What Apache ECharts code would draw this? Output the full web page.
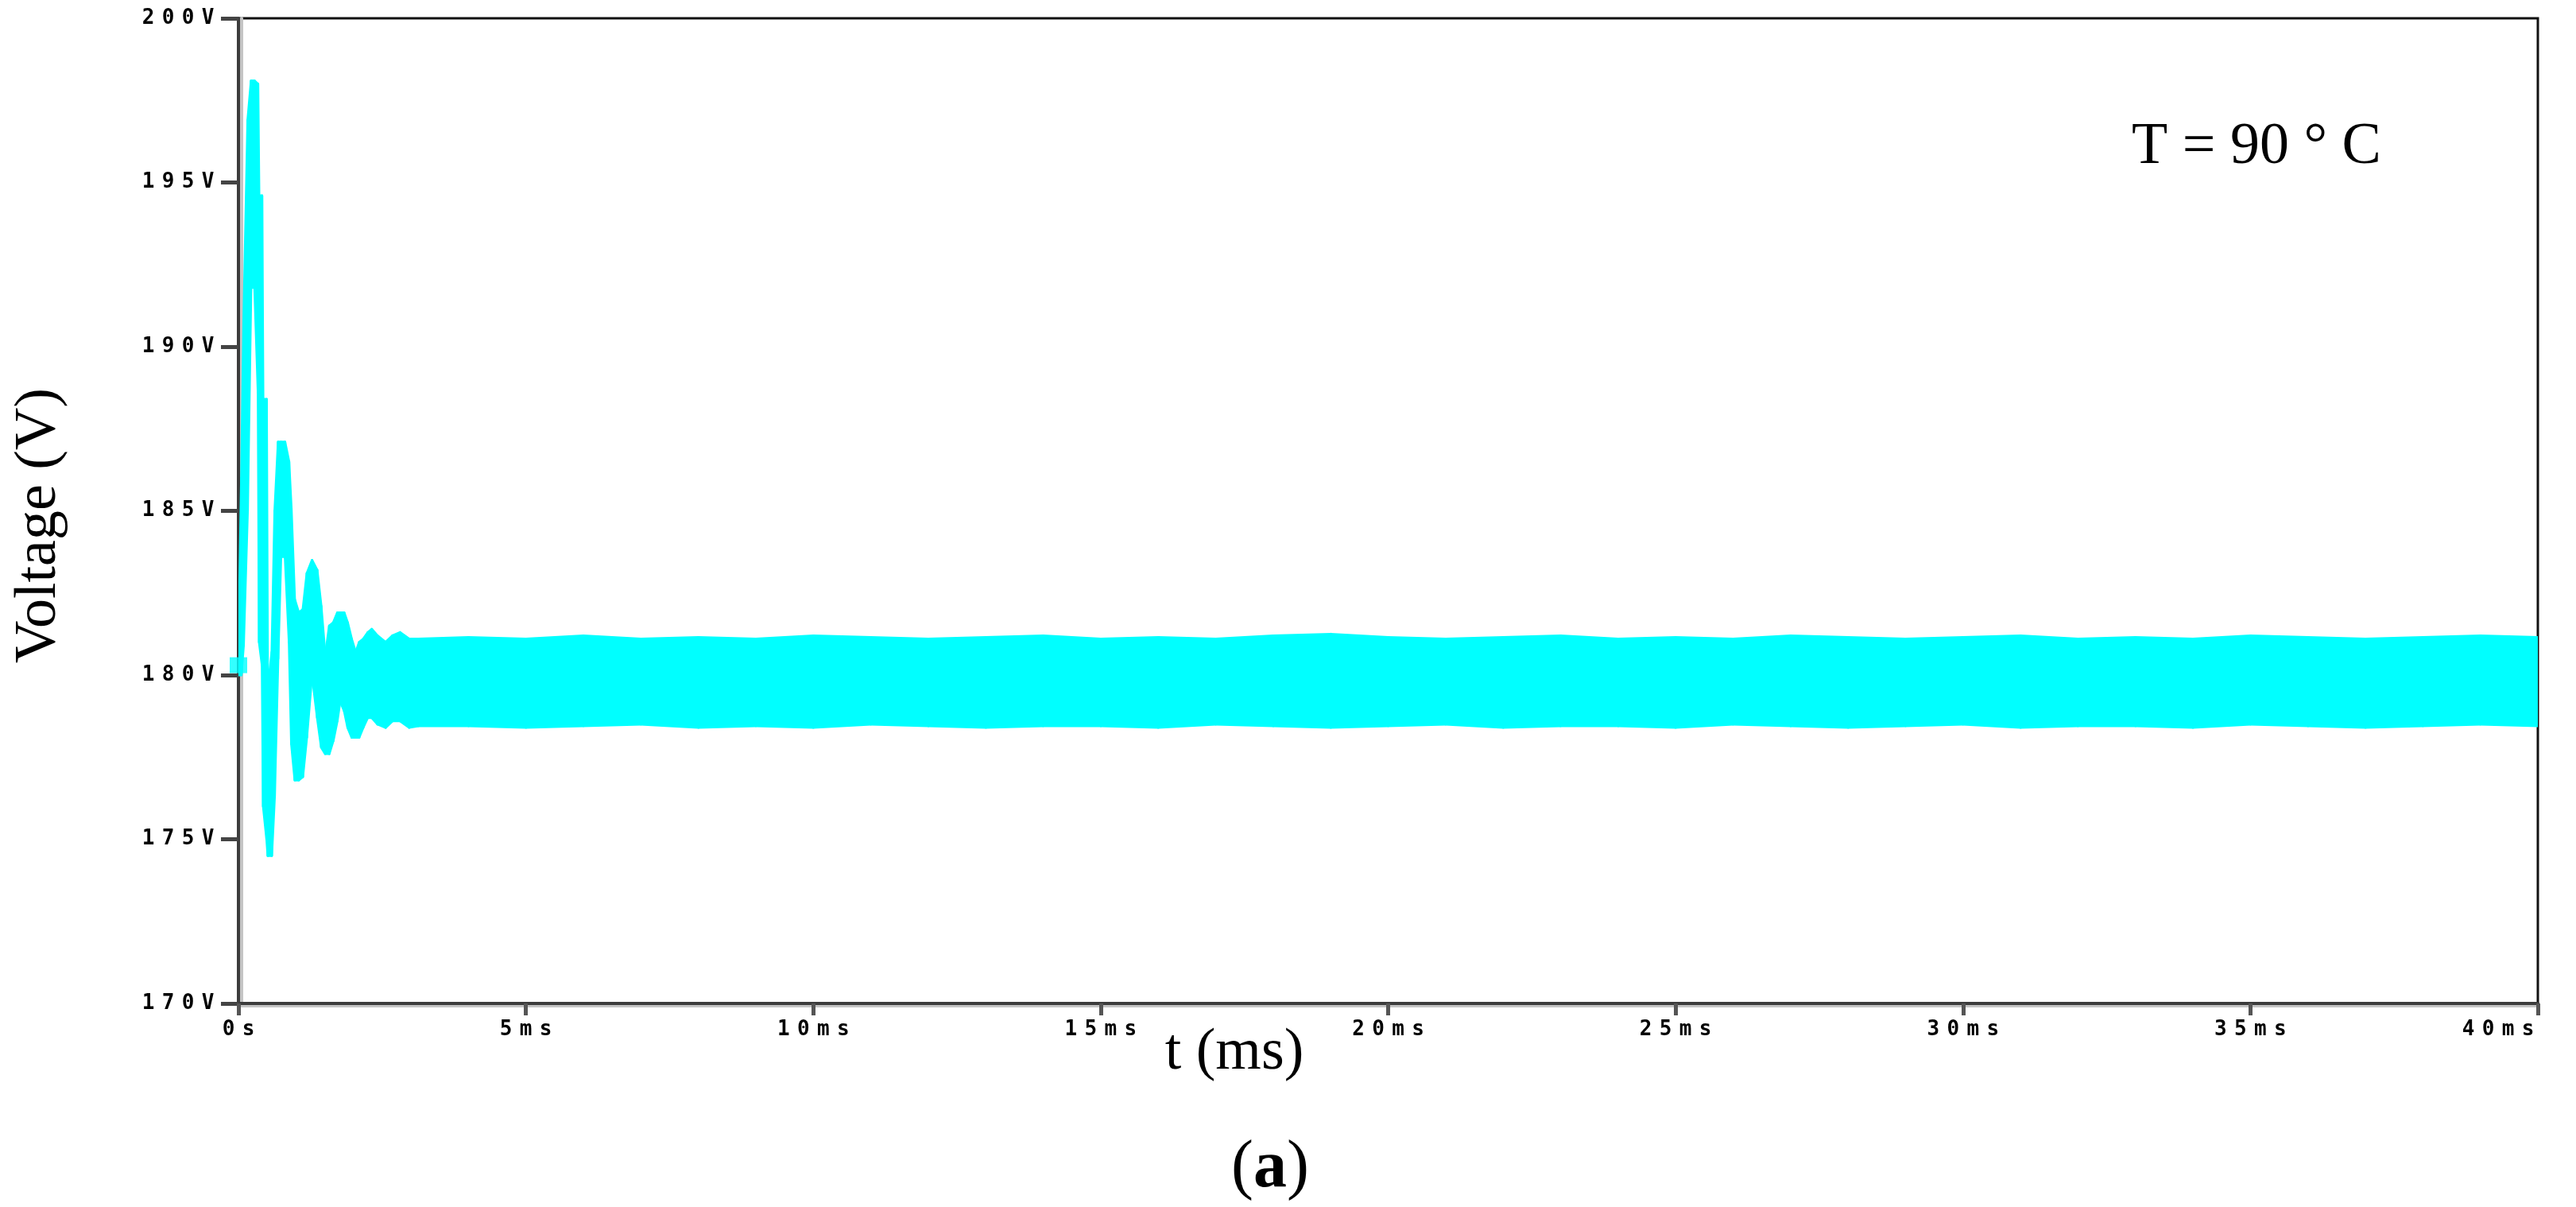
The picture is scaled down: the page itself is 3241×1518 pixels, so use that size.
<!DOCTYPE html>
<html>
<head>
<meta charset="utf-8">
<script src="https://cdn.jsdelivr.net/npm/echarts@6/dist/echarts.min.js"></script>
<style>
  html, body { margin: 0; padding: 0; background: #fff; }
  #chart { width: 3241px; height: 1518px; }
</style>
</head>
<body>
<div id="chart"></div>
<script>
// time axis (ms) of the envelope samples
const timeMs = [
  0, 0.05, 0.09, 0.16, 0.22, 0.28, 0.34, 0.36, 0.41, 0.43,
  0.49, 0.51, 0.58, 0.63, 0.69, 0.74, 0.81, 0.88, 0.92, 0.98,
  1.05, 1.12, 1.19, 1.28, 1.37, 1.44, 1.51, 1.58, 1.65, 1.72,
  1.77, 1.84, 1.90, 1.97, 2.04, 2.10, 2.17, 2.25, 2.32, 2.42,
  2.56, 2.68, 2.81, 2.97, 3.13,
  4, 5, 6, 7, 8, 9, 10, 11, 12, 13,
  14, 15, 16, 17, 18, 19, 20, 21, 22, 23,
  24, 25, 26, 27, 28, 29, 30, 31, 32, 33,
  34, 35, 36, 37, 38, 39, 40
]
// top edge of the trace (V)
const upperV = [
  180.6, 186.0, 190.8, 196.9, 198.1, 198.1, 198.0, 194.6, 194.6, 188.4,
  188.4, 179.6, 180.7, 185.0, 187.1, 187.1, 187.1, 186.5, 185.1, 182.3,
  181.9, 182.0, 183.1, 183.5, 183.2, 182.1, 180.6, 181.5, 181.6, 181.9,
  181.9, 181.9, 181.6, 181.1, 180.7, 181.0, 181.1, 181.3, 181.4, 181.2,
  181.0, 181.2, 181.3, 181.1, 181.1,
  181.15, 181.1, 181.2, 181.1, 181.15, 181.1, 181.2, 181.15, 181.1, 181.15,
  181.2, 181.1, 181.15, 181.1, 181.2, 181.25, 181.15, 181.1, 181.15, 181.2,
  181.1, 181.15, 181.1, 181.2, 181.15, 181.1, 181.15, 181.2, 181.1, 181.15,
  181.1, 181.2, 181.15, 181.1, 181.15, 181.2, 181.15
]
// bottom edge of the trace (V)
const lowerV = [
  180.0, 180.0, 180.9, 185.0, 191.8, 191.8, 188.6, 181.0, 180.3, 176.0,
  175.0, 174.5, 174.5, 176.3, 180.5, 183.6, 183.6, 181.0, 177.9, 176.8,
  176.8, 176.9, 178.1, 180.0, 178.7, 177.8, 177.6, 177.6, 178.0, 178.6,
  179.2, 178.9, 178.4, 178.1, 178.1, 178.1, 178.4, 178.7, 178.7, 178.5,
  178.4, 178.6, 178.6, 178.4, 178.45,
  178.45, 178.4, 178.45, 178.5, 178.4, 178.45, 178.4, 178.5, 178.45, 178.4,
  178.45, 178.45, 178.4, 178.5, 178.45, 178.4, 178.45, 178.5, 178.4, 178.45,
  178.45, 178.4, 178.5, 178.45, 178.4, 178.45, 178.5, 178.4, 178.45, 178.45,
  178.4, 178.5, 178.45, 178.4, 178.45, 178.5, 178.45
]
// start marker
const startPoint = [0, 180.3]

const xTickLabels = ['0s', '5ms', '10ms', '15ms', '20ms', '25ms', '30ms', '35ms', '40ms']
const yTickLabels = ['170V', '175V', '180V', '185V', '190V', '195V', '200V']

const TRACE = '#00ffff'
const AXIS = '#3c3c3c'

// each character in its own fixed cell, like the wide simulator font
function cells(s) {
  return s.split('').map(ch => '{c|' + ch + '}').join('')
}
const cellRich = {
  c: { width: 25, align: 'center', fontFamily: 'DejaVu Sans Mono', fontSize: 26, fontWeight: 'bold', color: '#000' }
}

const traceData = timeMs.map((t, i) => [t, upperV[i], lowerV[i]])

// one filled quad per segment, between the top and bottom edges
function renderBand(params, api) {
  const i = params.dataIndexInside
  if (i >= params.dataInsideLength - 1) return null
  const a = api.coord([api.value(0, i), api.value(1, i)])
  const b = api.coord([api.value(0, i + 1), api.value(1, i + 1)])
  const c = api.coord([api.value(0, i + 1), api.value(2, i + 1)])
  const d = api.coord([api.value(0, i), api.value(2, i)])
  return {
    type: 'polygon',
    shape: { points: [a, b, c, d] },
    style: { fill: TRACE, stroke: TRACE, lineWidth: 3, lineJoin: 'round' }
  }
}

const chart = echarts.init(document.getElementById('chart'))
chart.setOption({
  animation: false,
  backgroundColor: '#fff',
  grid: {
    left: 300, right: 48, top: 23, bottom: 256,
    show: true, borderColor: '#111', borderWidth: 3, backgroundColor: '#fff'
  },
  xAxis: {
    type: 'value',
    min: 0, max: 40, interval: 5,
    axisLine: { show: true, lineStyle: { color: AXIS, width: 4, shadowColor: '#c4c4c4', shadowOffsetY: 3 } },
    axisTick: { show: true, length: 15, lineStyle: { color: '#555', width: 5 } },
    splitLine: { show: false },
    axisLabel: {
      margin: 20,
      alignMaxLabel: 'right',
      formatter: v => cells(xTickLabels[Math.round(v / 5)]),
      rich: cellRich
    }
  },
  yAxis: {
    type: 'value',
    min: 170, max: 200, interval: 5,
    axisLine: { show: true, lineStyle: { color: AXIS, width: 4, shadowColor: '#c4c4c4', shadowOffsetX: 4 } },
    axisTick: { show: true, length: 22, lineStyle: { color: '#444', width: 5 } },
    splitLine: { show: false },
    axisLabel: {
      margin: 26,
      formatter: v => cells(yTickLabels[Math.round((v - 170) / 5)]),
      rich: cellRich
    }
  },
  series: [
    {
      name: 'trace',
      type: 'custom',
      data: traceData,
      encode: { x: 0, y: [1, 2] },
      renderItem: renderBand,
      clip: true,
      z: 3
    },
    {
      name: 'start',
      type: 'scatter',
      data: [startPoint],
      symbol: 'rect',
      symbolSize: [22, 20],
      itemStyle: { color: TRACE },
      clip: false,
      z: 4
    }
  ],
  graphic: [
    {
      type: 'text', x: 50, y: 661, rotation: Math.PI / 2,
      style: {
        text: 'Voltage (V)', fill: '#000',
        fontFamily: 'Liberation Serif', fontSize: 74,
        align: 'center', verticalAlign: 'middle'
      }
    },
    {
      type: 'text', x: 1553, y: 1325,
      style: {
        text: 't (ms)', fill: '#000',
        fontFamily: 'Liberation Serif', fontSize: 74,
        align: 'center', verticalAlign: 'middle'
      }
    },
    {
      type: 'text', x: 1598, y: 1470,
      style: {
        text: '{n|(}{b|a}{n|)}', fill: '#000',
        rich: {
          n: { fontFamily: 'Liberation Serif', fontSize: 84, color: '#000' },
          b: { fontFamily: 'Liberation Serif', fontSize: 84, fontWeight: 'bold', color: '#000' }
        },
        align: 'center', verticalAlign: 'middle'
      }
    },
    {
      type: 'text', x: 2682, y: 186,
      style: {
        text: 'T = 90 ° C', fill: '#000',
        fontFamily: 'Liberation Serif', fontSize: 74,
        align: 'left', verticalAlign: 'middle'
      }
    }
  ]
})
</script>
</body>
</html>
